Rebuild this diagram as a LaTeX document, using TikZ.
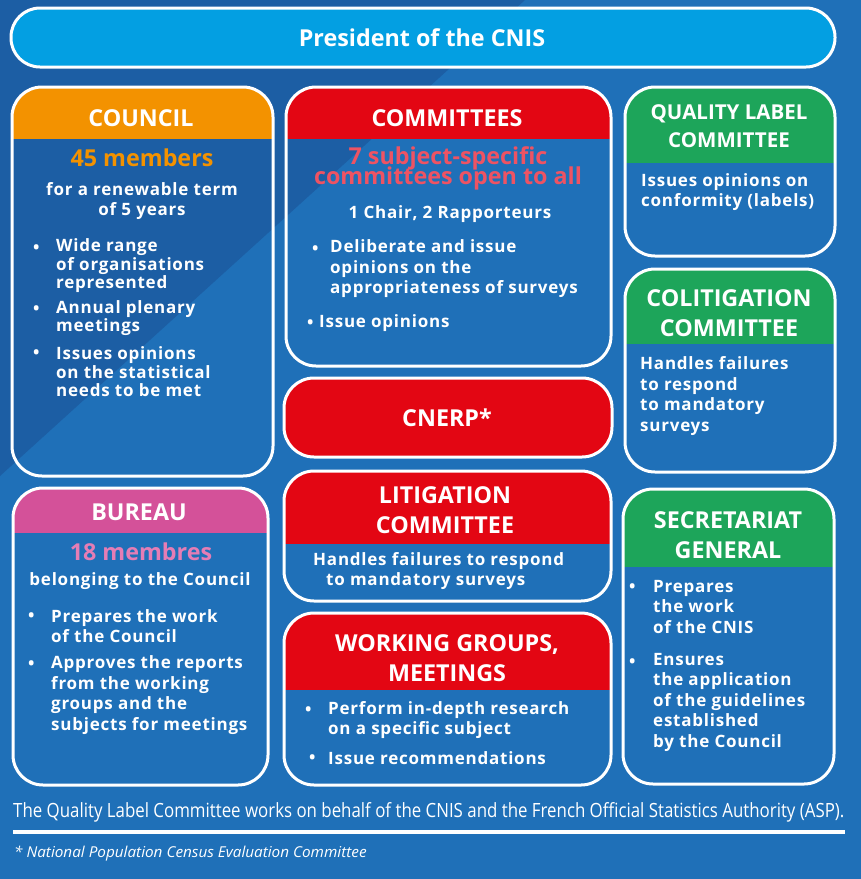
\documentclass[tikz,border=0pt]{standalone}
\usepackage{fontspec}
\setmainfont{Open Sans}[LetterSpace=4.5]
\newfontfamily\headfont{Open Sans}
\newfontfamily\footfont{Open Sans}
\usepackage{tikz}

\definecolor{bgdark}{HTML}{1C5EA4}
\definecolor{bglight}{HTML}{1F70B8}
\definecolor{barblue}{HTML}{039FE2}
\definecolor{cnisorange}{HTML}{F39200}
\definecolor{cnisred}{HTML}{E30613}
\definecolor{cnisgreen}{HTML}{1DA55A}
\definecolor{cnispink}{HTML}{D45199}
\definecolor{txtred}{HTML}{EE5363}
\definecolor{txtpink}{HTML}{E57DB5}

\begin{document}
\begin{tikzpicture}[x=1pt,y=-1pt,
  frame/.style={draw=white,line width=3pt,rounded corners=30pt},
  head/.style={text=white,font=\headfont\fontsize{23.3}{30}\selectfont\bfseries,align=center,inner sep=0pt},
  body/.style={text=white,font=\fontsize{17}{20.5}\selectfont\bfseries,align=left,anchor=west,inner sep=0pt},
  mid/.style={body,align=center,anchor=center},
  dot/.style={text=white,font=\fontsize{17}{20.5}\selectfont\bfseries,anchor=west,inner sep=0pt}]
\useasboundingbox (0,0) rectangle (861,879);
\fill[bglight] (0,0) rectangle (861,879);
\fill[bgdark] (0,0) -- (525,0) -- (0,476) -- cycle;

% president bar
\draw[draw=white,line width=3pt,fill=barblue,rounded corners=29pt] (11,8) rectangle (835,67);
\node[head] (pres) at (422,38) {President of the CNIS};

% boxes with coloured heads
\foreach \xa/\ya/\xb/\yb/\yh/\col in {12/87/273/476/139/cnisorange, 13/488/268/785/533/cnispink,
  286/87/611/366/139/cnisred, 284/378/612/457/457/cnisred, 284/471/611/601/544/cnisred,
  284/613/611/785/690/cnisred, 625/87/835/256/163/cnisgreen, 625/269/835/472/344/cnisgreen,
  623/489/834/784/567/cnisgreen}
{
  \begin{scope}
    \clip[rounded corners=30pt] (\xa,\ya) rectangle (\xb,\yb);
    \fill[\col] (\xa,\ya) rectangle (\xb,\yh);
  \end{scope}
  \draw[frame] (\xa,\ya) rectangle (\xb,\yb);
}

% council
\node[head] (council) at (141,118) {COUNCIL};
\node[head,text=cnisorange] (members) at (142,158) {45 members};
\node[mid] (term) at (142,201) {for a renewable term\\of 5 years};
\node[dot] (cdot1) at (33,249) {•};
\node[body,font=\fontsize{17}{18.5}\selectfont\bfseries] (range) at (56,266) {Wide range\\of organisations\\represented};
\node[dot] (cdot2) at (33,310) {•};
\node[body,font=\fontsize{17}{18.5}\selectfont\bfseries] (plenary) at (56,318) {Annual plenary\\meetings};
\node[dot] (cdot3) at (33,354) {•};
\node[body,font=\fontsize{17}{18.5}\selectfont\bfseries] (needs) at (56,372) {Issues opinions\\on the statistical\\needs to be met};

% bureau
\node[head] (bureau) at (139,512) {BUREAU};
\node[head,text=txtpink] (membres) at (141,552) {18 membres};
\node[mid] (belong) at (140,581) {belonging to the Council};
\node[dot] (bdot1) at (28,617) {•};
\node[body] (prep) at (51,626) {Prepares the work\\of the Council};
\node[dot] (bdot2) at (28,665) {•};
\node[body] (approve) at (51,695) {Approves the reports\\from the working\\groups and the\\subjects for meetings};

% committees
\node[head] (committees) at (447,118) {COMMITTEES};
\node[head,text=txtred,font={\headfont\fontsize{23.3}{20}\selectfont\bfseries\lineskiplimit=-100pt\relax}] (seven) at (448,168) {7 subject-specific\\committees open to all};
\node[mid] (chair) at (450,214) {1 Chair, 2 Rapporteurs};
\node[dot] (kdot1) at (312,250) {•};
\node[body] (deliberate) at (330,269) {Deliberate and issue\\opinions on the\\appropriateness of surveys};
\node[dot] (kdot2) at (307,324) {•};
\node[body] (issue) at (319,323) {Issue opinions};

% cnerp
\node[head] (cnerp) at (447,418) {CNERP*};

% litigation
\node[head] (litig) at (445,510) {LITIGATION\\COMMITTEE};
\node[body] (handles) at (313,571) {Handles failures to respond\\\hspace*{13pt}to mandatory surveys};

% working groups
\node[head] (working) at (447,658) {WORKING GROUPS,\\MEETINGS};
\node[dot] (wdot1) at (305,711) {•};
\node[body] (perform) at (328,720) {Perform in-depth research\\on a specific subject};
\node[dot] (wdot2) at (309,759) {•};
\node[body] (recomm) at (328,758) {Issue recommendations};

% quality label
\node[head,font=\headfont\fontsize{20.5}{28}\selectfont\bfseries] (quality) at (729,126) {QUALITY LABEL\\COMMITTEE};
\node[body] (conform) at (641,192) {Issues opinions on\\conformity (labels)};

% colitigation
\node[head] (colitig) at (729,313) {COLITIGATION\\COMMITTEE};
\node[body] (colhandles) at (640,396) {Handles failures\\to respond\\to mandatory\\surveys};

% secretariat
\node[head] (secret) at (728,535) {SECRETARIAT\\GENERAL};
\node[dot] (sdot1) at (629,588) {•};
\node[body] (sprep) at (653,607) {Prepares\\the work\\of the CNIS};
\node[dot] (sdot2) at (629,663) {•};
\node[body] (ensure) at (653,702) {Ensures\\the application\\of the guidelines\\established\\by the Council};

% footer
\node[anchor=west,inner sep=0pt,text=white] (asp) at (13,812) {\scalebox{0.86}[1]{\footfont\fontsize{19.6}{22}\selectfont The Quality Label Committee works on behalf of the CNIS and the French Official Statistics Authority (ASP).}};
\draw[white,line width=4pt] (13,832) -- (845,832);
\node[anchor=west,inner sep=0pt,text=white] (census) at (14,854) {\scalebox{1.02}[1]{\footfont\fontsize{15}{18}\selectfont\itshape * National Population Census Evaluation Committee}};
\end{tikzpicture}
\end{document}
